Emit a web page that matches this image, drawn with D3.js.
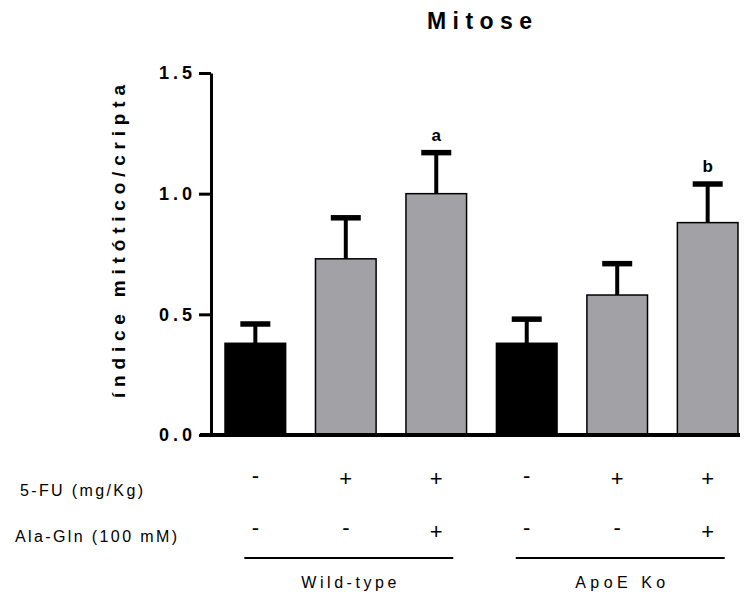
<!DOCTYPE html>
<html>
<head>
<meta charset="utf-8">
<script src="https://cdn.jsdelivr.net/npm/d3@7"></script>
<style>
  html, body { margin: 0; padding: 0; background: #fff; }
  svg { display: block; font-family: Arial, 'Liberation Sans', sans-serif; }
</style>
</head>
<body>
<div id="chart"></div>
<script>
// data
const groups = ['WT ctrl', 'WT 5-FU', 'WT 5-FU+AG', 'ApoE ctrl', 'ApoE 5-FU', 'ApoE 5-FU+AG'];
const means = [0.38, 0.73, 1.0, 0.38, 0.58, 0.88];
const errors = [0.08, 0.17, 0.17, 0.10, 0.13, 0.16];
const barColors = ['#000000', '#a2a1a6', '#a2a1a6', '#000000', '#a2a1a6', '#a2a1a6'];
const marks = ['', '', 'a', '', '', 'b'];
const fuSigns = ['-', '+', '+', '-', '+', '+'];
const alaGlnSigns = ['-', '-', '+', '-', '-', '+'];
const strains = [
  { name: 'Wild-type', first: 0, last: 2 },
  { name: 'ApoE Ko', first: 3, last: 5 }
];
const yTicks = [0, 0.5, 1.0, 1.5];

const width = 745;
const height = 597;

const svg = d3.select('#chart')
  .append('svg')
  .attr('width', width)
  .attr('height', height);

const x = d3.scaleBand()
  .domain(d3.range(groups.length))
  .range([211, 752])
  .paddingInner(0.33)
  .paddingOuter(0.155);

const y = d3.scaleLinear()
  .domain([0, 1.5])
  .range([435, 73]);

const cx = i => x(i) + x.bandwidth() / 2;

// title
svg.append('text')
  .attr('x', 479.5)
  .attr('y', 29)
  .attr('text-anchor', 'middle')
  .attr('textLength', 105)
  .attr('lengthAdjust', 'spacing')
  .style('font-size', '23px')
  .style('font-weight', 'bold')
  .text('Mitose');

// y label
svg.append('text')
  .attr('transform', 'translate(125, 241.5) rotate(-90)')
  .attr('text-anchor', 'middle')
  .attr('textLength', 313)
  .attr('lengthAdjust', 'spacing')
  .style('font-size', '19px')
  .style('font-weight', 'bold')
  .text('índice mitótico/cripta');

// bars
svg.append('g')
  .selectAll('rect')
  .data(means)
  .join('rect')
  .attr('x', (d, i) => x(i))
  .attr('y', d => y(d))
  .attr('width', x.bandwidth())
  .attr('height', d => y(0) - y(d))
  .attr('fill', (d, i) => barColors[i])
  .attr('stroke', '#000')
  .attr('stroke-width', 1.5);

// error bars (upper only)
const err = svg.append('g');
err.selectAll('line.stem')
  .data(means)
  .join('line')
  .attr('class', 'stem')
  .attr('x1', (d, i) => cx(i))
  .attr('x2', (d, i) => cx(i))
  .attr('y1', d => y(d))
  .attr('y2', (d, i) => y(d + errors[i]))
  .attr('stroke', '#000')
  .attr('stroke-width', 4);

err.selectAll('line.cap')
  .data(means)
  .join('line')
  .attr('class', 'cap')
  .attr('x1', (d, i) => cx(i) - 15)
  .attr('x2', (d, i) => cx(i) + 15)
  .attr('y1', (d, i) => y(d + errors[i]))
  .attr('y2', (d, i) => y(d + errors[i]))
  .attr('stroke', '#000')
  .attr('stroke-width', 5.5);

// significance letters
svg.append('g')
  .selectAll('text')
  .data(marks)
  .join('text')
  .attr('x', (d, i) => cx(i))
  .attr('y', (d, i) => y(means[i] + errors[i]) - 12)
  .attr('text-anchor', 'middle')
  .style('font-size', '17px')
  .style('font-weight', 'bold')
  .text(d => d);

// y axis
const yAxis = svg.append('g')
  .attr('transform', 'translate(211, 0)')
  .call(d3.axisLeft(y)
    .tickValues(yTicks)
    .tickFormat(d3.format('.1f'))
    .tickSize(12)
    .tickSizeOuter(0)
    .tickPadding(7));

yAxis.select('.domain').attr('stroke-width', 3);
yAxis.selectAll('.tick line').attr('stroke-width', 3);
yAxis.selectAll('.tick text')
  .attr('textLength', 33)
  .attr('lengthAdjust', 'spacing')
  .style('font-size', '18px')
  .style('font-weight', 'bold')
  .style('font-family', "Arial, 'Liberation Sans', sans-serif")
  .attr('fill', '#000');

// x axis baseline
svg.append('line')
  .attr('x1', 200)
  .attr('x2', 740)
  .attr('y1', y(0))
  .attr('y2', y(0))
  .attr('stroke', '#000')
  .attr('stroke-width', 4);

// treatment table
svg.append('text')
  .attr('x', 20)
  .attr('y', 496)
  .attr('textLength', 123)
  .attr('lengthAdjust', 'spacing')
  .style('font-size', '16px')
  .text('5-FU (mg/Kg)');

svg.append('text')
  .attr('x', 15)
  .attr('y', 542)
  .attr('textLength', 162)
  .attr('lengthAdjust', 'spacing')
  .style('font-size', '16px')
  .text('Ala-Gln (100 mM)');

svg.append('g')
  .selectAll('text')
  .data(fuSigns)
  .join('text')
  .attr('x', (d, i) => cx(i))
  .attr('y', d => d === '+' ? 486 : 483)
  .attr('text-anchor', 'middle')
  .style('font-size', '22px')
  .text(d => d);

svg.append('g')
  .selectAll('text')
  .data(alaGlnSigns)
  .join('text')
  .attr('x', (d, i) => cx(i))
  .attr('y', d => d === '+' ? 539 : 535)
  .attr('text-anchor', 'middle')
  .style('font-size', '22px')
  .text(d => d);

// strain brackets
const strainG = svg.append('g')
  .selectAll('g')
  .data(strains)
  .join('g');

strainG.append('line')
  .attr('x1', d => cx(d.first) - 11)
  .attr('x2', d => cx(d.last) + 17)
  .attr('y1', 558)
  .attr('y2', 558)
  .attr('stroke', '#000')
  .attr('stroke-width', 2);

strainG.append('text')
  .attr('x', d => (cx(d.first) - 11 + cx(d.last) + 17) / 2)
  .attr('y', 588)
  .attr('text-anchor', 'middle')
  .attr('textLength', d => d.name === 'Wild-type' ? 95 : 90)
  .attr('lengthAdjust', 'spacing')
  .style('font-size', '16px')
  .text(d => d.name);
</script>
</body>
</html>
